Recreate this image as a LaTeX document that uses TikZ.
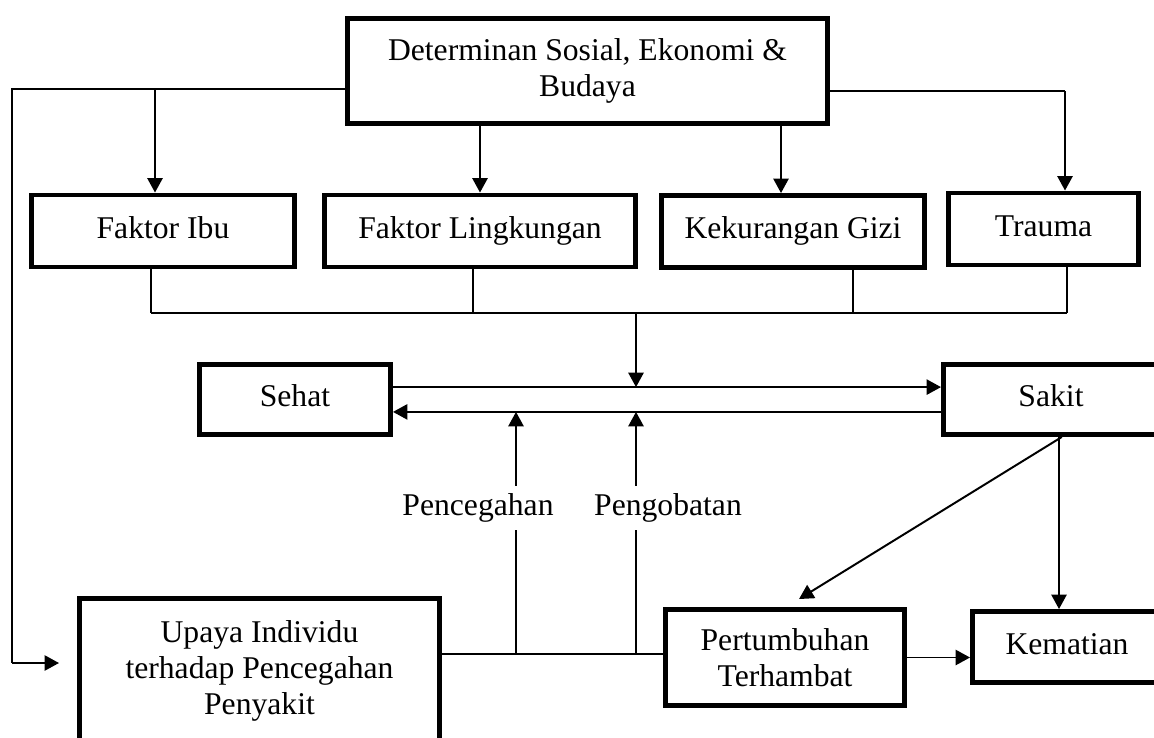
\documentclass[tikz,border=0pt]{standalone}
\usepackage{fontspec}
\setmainfont{Liberation Serif}
\usetikzlibrary{positioning,calc,arrows.meta}

\begin{document}
\begin{tikzpicture}[x=0.025cm,y=-0.025cm,
  blok/.style={rectangle,draw,line width=3.5pt,align=center,inner sep=0pt},
  satu/.style={blok,text height=0.55cm,text depth=0.2cm},
  garis/.style={line width=1.4pt},
  arr/.style={garis,-{Triangle[length=0.36cm,width=0.38cm]}},
  label/.style={fill=white,inner xsep=1pt,inner ysep=0.2cm},
  font=\fontsize{22.5}{25.8}\selectfont]
\useasboundingbox (0,0) rectangle (1154,737);
\clip (0,0) rectangle (1154,737);

\node (det) at (587.5,71) [blok,minimum width=12cm,minimum height=2.625cm] {Determinan Sosial, Ekonomi \&\\Budaya};
\foreach \nm/\x/\y/\w/\txt in {ibu/163/231/6.575/Faktor Ibu,ling/480/231/7.775/Faktor Lingkungan,gizi/793/231.5/6.575/Kekurangan Gizi,trauma/1043.5/229/4.75/Trauma} {
    \node (\nm) at (\x,\y) [satu,minimum width=\w cm,minimum height=1.8cm] {\txt};
}
\node (sehat) at (295,399.5) [satu,minimum width=4.775cm,minimum height=1.75cm] {Sehat};
\node (sakit) at (1051,399.5) [satu,minimum width=5.375cm,minimum height=1.75cm] {Sakit};
\node (upaya) at (259.5,671) [blok,minimum width=9cm,minimum height=3.625cm] {Upaya Individu\\terhadap Pencegahan\\Penyakit};
\node (tumbuh) at (785,657.5) [blok,minimum width=5.975cm,minimum height=2.4cm] {Pertumbuhan\\Terhambat};
\node (mati) at (1067,647) [satu,minimum width=4.725cm,minimum height=1.775cm] {Kematian};

\coordinate (kiri) at (12,89);
\coordinate (kiriB) at (12,663);
\coordinate (ujung) at (59,663);
\coordinate (kanan) at (1065,91);
\coordinate (bus) at (636,313);
\coordinate (a1) at ([yshift=0.31cm]sehat.east);
\coordinate (b1) at ([yshift=-0.31cm]sehat.east);
\coordinate (p1) at (516,654);
\coordinate (p2) at (636,654);

\draw[garis] (det.west |- kiri) -- (kiri) -- (kiriB);
\draw[arr] (kiriB) -- (ujung);
\draw[arr] (155,0 |- kiri) -- (155,0 |- ibu.north);
\draw[arr] (det.south -| ling.north) -- (ling.north);
\draw[arr] ([xshift=-0.3cm]det.south -| gizi.north) -- ([xshift=-0.3cm]gizi.north);
\draw[garis] (det.east |- kanan) -- (kanan);
\draw[arr] (kanan) -- (kanan |- trauma.north);

\foreach \nm/\x in {ibu/151,ling/473,gizi/853,trauma/1067} {
    \draw[garis] (\x,0 |- \nm.south) -- (\x,0 |- bus);
}
\draw[garis] (151,0 |- bus) -- (1067,0 |- bus);
\draw[arr] (bus) -- (bus |- a1);

\draw[arr] (a1) -- (a1 -| sakit.west);
\draw[arr] (b1 -| sakit.west) -- (b1);

\draw[garis] (upaya.east |- p1) -- (tumbuh.west |- p1);
\draw[arr] (p1) -- (p1 |- b1);
\draw[arr] (p2) -- (p2 |- b1);
\node (pcg) at (478,508) [label] {Pencegahan};
\node (pgb) at (668,508) [label] {Pengobatan};

\draw[arr] ([xshift=0.2cm]sakit.south) -- ([xshift=0.2cm]sakit.south |- mati.north);
\draw[arr] ([xshift=0.27cm]sakit.south) -- ([xshift=0.35cm,yshift=0.2cm]tumbuh.north);
\draw[arr] (tumbuh.east) -- (tumbuh.east -| mati.west);
\end{tikzpicture}
\end{document}
